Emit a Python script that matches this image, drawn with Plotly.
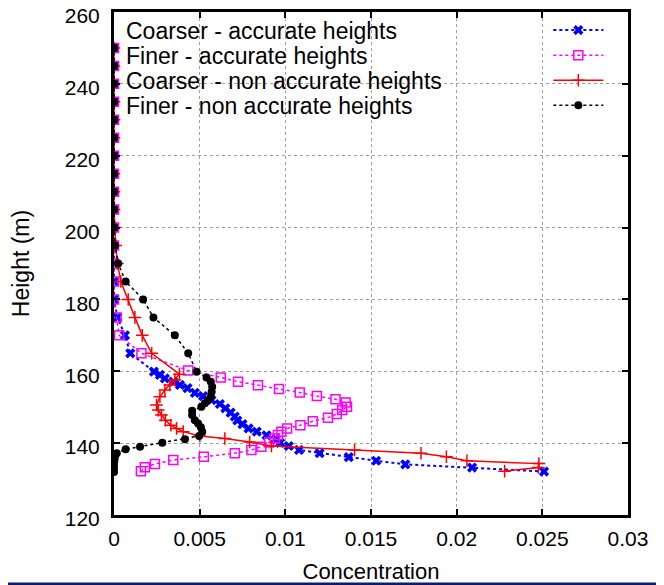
import plotly.graph_objects as go

LABELS = ["Coarser - accurate heights", "Finer - accurate heights",
          "Coarser - non accurate heights", "Finer - non accurate heights"]

# Coarser - accurate heights
h_ca = [132.1, 133.2, 134.1, 135.1, 136.1, 137.2, 138.1, 139.2, 140.1, 141.1,
        142.2, 143.2, 144.1, 145.3, 146.3, 147.4, 148.5, 149.7, 150.9, 152.0,
        153.1, 154.0, 155.3, 156.2, 157.1, 158.0, 159.0, 159.9, 165, 170, 175,
        180, 185, 190, 195, 200, 205, 210, 215, 220, 225, 230, 235, 240, 245, 250]
c_ca = [0.0251, 0.0209, 0.0170, 0.0153, 0.0137, 0.0120, 0.0108, 0.0102, 0.0097, 0.00946,
        0.0089, 0.00833, 0.00785, 0.0075, 0.0072, 0.00705, 0.00681, 0.0065, 0.00618, 0.00569,
        0.0052, 0.00472, 0.00429, 0.00385, 0.00346, 0.00297, 0.00268, 0.00233, 0.00095, 0.00064, 0.0002,
        0, 0, 0, 0, 0, 0, 0, 0, 0, 0, 0, 0, 0, 0, 0]

# Finer - accurate heights
h_fa = [132.2, 133.3, 134.2, 135.3, 136.2, 137.2, 138.1, 139.0, 140.2, 141.3,
        142.3, 143.2, 144.1, 145.0, 146.1, 147.1, 148.1, 149.2, 150.1, 151.3,
        152.2, 153.1, 154.1, 155.1, 156.1, 157.1, 158.3, 160.2, 165, 170, 175,
        180, 185, 190, 195, 200, 205, 210, 215, 220, 225, 230, 235, 240, 245, 250]
c_fa = [0.00157, 0.0018, 0.00239, 0.00346, 0.00524, 0.00705, 0.00802, 0.0086, 0.00905, 0.00938,
        0.00957, 0.00977, 0.0101, 0.01088, 0.0116, 0.01249, 0.013, 0.01332, 0.0136, 0.01352,
        0.01293, 0.01184, 0.01084, 0.00963, 0.0084, 0.00724, 0.00623, 0.00433, 0.0016, 0.0003, 0.00015,
        0, 0, 0, 0, 0, 0, 0, 0, 0, 0, 0, 0, 0, 0, 0]

# Coarser - non accurate heights
h_cn = [132.2, 133.2, 134.3, 135.1, 136.2, 137.2, 138.1, 139.2, 140.3, 141.3,
        142.0, 143.2, 144.1, 145.0, 146.4, 147.8, 149.2, 150.6, 152.9, 154.8,
        156.2, 157.6, 159.2, 165, 170, 175, 180, 185, 190, 195, 200,
        205, 210, 215, 220, 225, 230, 235, 240, 245, 250]
c_cn = [0.0228, 0.02477, 0.0248, 0.0206, 0.0194, 0.01792, 0.01404, 0.00919, 0.00792, 0.00647,
        0.00501, 0.00404, 0.00365, 0.00332, 0.003, 0.00277, 0.00258, 0.00248, 0.00268, 0.00297,
        0.00326, 0.00355, 0.00382, 0.0022, 0.00165, 0.00122, 0.00083, 0.0004, 0.0002, 0.0001, 0.00005,
        0, 0, 0, 0, 0, 0, 0, 0, 0, 0]

# Finer - non accurate heights
h_fn = [132.0, 133.0, 134.0, 135.0, 136.0, 137.2, 138.3, 139.0, 140.1, 141.1,
        142.0, 143.2, 144.4, 145.5, 146.4, 147.8, 149.0, 150.1, 151.1, 152.0,
        152.9, 154.3, 155.7, 157.1, 158.3, 159.9, 165, 170, 175, 180, 185, 190, 195, 200,
        205, 210, 215, 220, 225, 230, 235, 240, 245, 250]
c_fn = [0, 0, 0, 0.00002, 0.00005, 0.00016, 0.00068, 0.00152, 0.00282, 0.00414,
        0.00497, 0.00515, 0.00507, 0.00491, 0.00472, 0.00456, 0.00456, 0.0051, 0.0053, 0.0055,
        0.00565, 0.0057, 0.00573, 0.00565, 0.0054, 0.00482, 0.00433, 0.00355, 0.0023, 0.0017,
        0.00068, 0.00025, 0.00006, 0.00002,
        0, 0, 0, 0, 0, 0, 0, 0, 0, 0]

x_ticks = [0, 0.005, 0.01, 0.015, 0.02, 0.025, 0.03]
x_ticktext = ["0", "0.005", "0.01", "0.015", "0.02", "0.025", "0.03"]
y_ticks = [120, 140, 160, 180, 200, 220, 240, 260]

FONT = "Liberation Sans, Arial, sans-serif"

fig = go.Figure()

fig.add_trace(go.Scatter(
    x=c_ca, y=h_ca, name=" ", hovertext=LABELS[0], mode="lines+markers",
    line=dict(color="#0000ff", width=2, dash="dot"),
    marker=dict(symbol="x", size=9, color="#0000ff"),
))
fig.add_trace(go.Scatter(
    x=c_fa, y=h_fa, name=" ", hovertext=LABELS[1], mode="lines+markers",
    line=dict(color="#ff00ff", width=1.5, dash="dot"),
    marker=dict(symbol="square-open", size=9, color="#ff00ff", line=dict(width=1.5)),
))
fig.add_trace(go.Scatter(
    x=c_cn, y=h_cn, name=" ", hovertext=LABELS[2], mode="lines+markers",
    line=dict(color="#ff0000", width=1.5),
    marker=dict(symbol="cross-thin-open", size=9, color="#ff0000", line=dict(width=1.5, color="#ff0000")),
))
fig.add_trace(go.Scatter(
    x=c_fn, y=h_fn, name=" ", hovertext=LABELS[3], mode="lines+markers",
    line=dict(color="#000000", width=1.5, dash="dot"),
    marker=dict(symbol="circle", size=8, color="#000000"),
))

# white key box that hides the grid under the legend
fig.add_shape(type="rect", xref="paper", yref="paper", x0=0, x1=0.977, y0=0.805, y1=1,
              fillcolor="white", line=dict(width=0), layer="between")

# key text on the left (gnuplot style), samples come from the plotly legend on the right
for i, lab in enumerate(LABELS):
    fig.add_annotation(text=lab, xref="paper", yref="paper", x=0.019, y=0.962 - i * 0.0497,
                       xanchor="left", yanchor="middle", showarrow=False,
                       font=dict(family=FONT, size=23, color="black"))

# thin strip along the bottom of the picture
fig.add_shape(type="line", xref="paper", yref="paper", x0=-0.21, x1=1.08, y0=-0.137, y1=-0.137,
              line=dict(color="#0a1a6e", width=3), layer="above")

axis_common = dict(
    showline=True, linecolor="black", linewidth=3, mirror="ticks",
    ticks="inside", ticklen=6, tickwidth=2, tickcolor="black",
    showgrid=True, gridcolor="#a0a0a0", gridwidth=1, griddash="dot",
    zeroline=False, automargin=False, ticklabeloverflow="allow",
    tickfont=dict(family=FONT, size=21, color="black"),
)

fig.update_xaxes(range=[0, 0.03], tickvals=x_ticks, ticktext=x_ticktext, tickangle=0,
                 title=dict(text="Concentration", font=dict(family=FONT, size=22, color="black"), standoff=15),
                 ticklabelstandoff=3, **axis_common)
fig.update_yaxes(range=[120, 260], tickvals=y_ticks, ticklabelshift=4,
                 title=dict(text="Height (m)", font=dict(family=FONT, size=23, color="black"), standoff=31),
                 ticklabelstandoff=7, **axis_common)

fig.update_layout(
    width=656, height=577,
    margin=dict(l=106, r=36, t=4, b=70),
    paper_bgcolor="white", plot_bgcolor="white",
    showlegend=True,
    legend=dict(x=0.845, y=0.999, xanchor="left", yanchor="top", bgcolor="rgba(0,0,0,0)",
                font=dict(family=FONT, size=17), itemwidth=50, tracegroupgap=0),
    font=dict(family=FONT, color="black"),
)

fig.write_html("out.html")
